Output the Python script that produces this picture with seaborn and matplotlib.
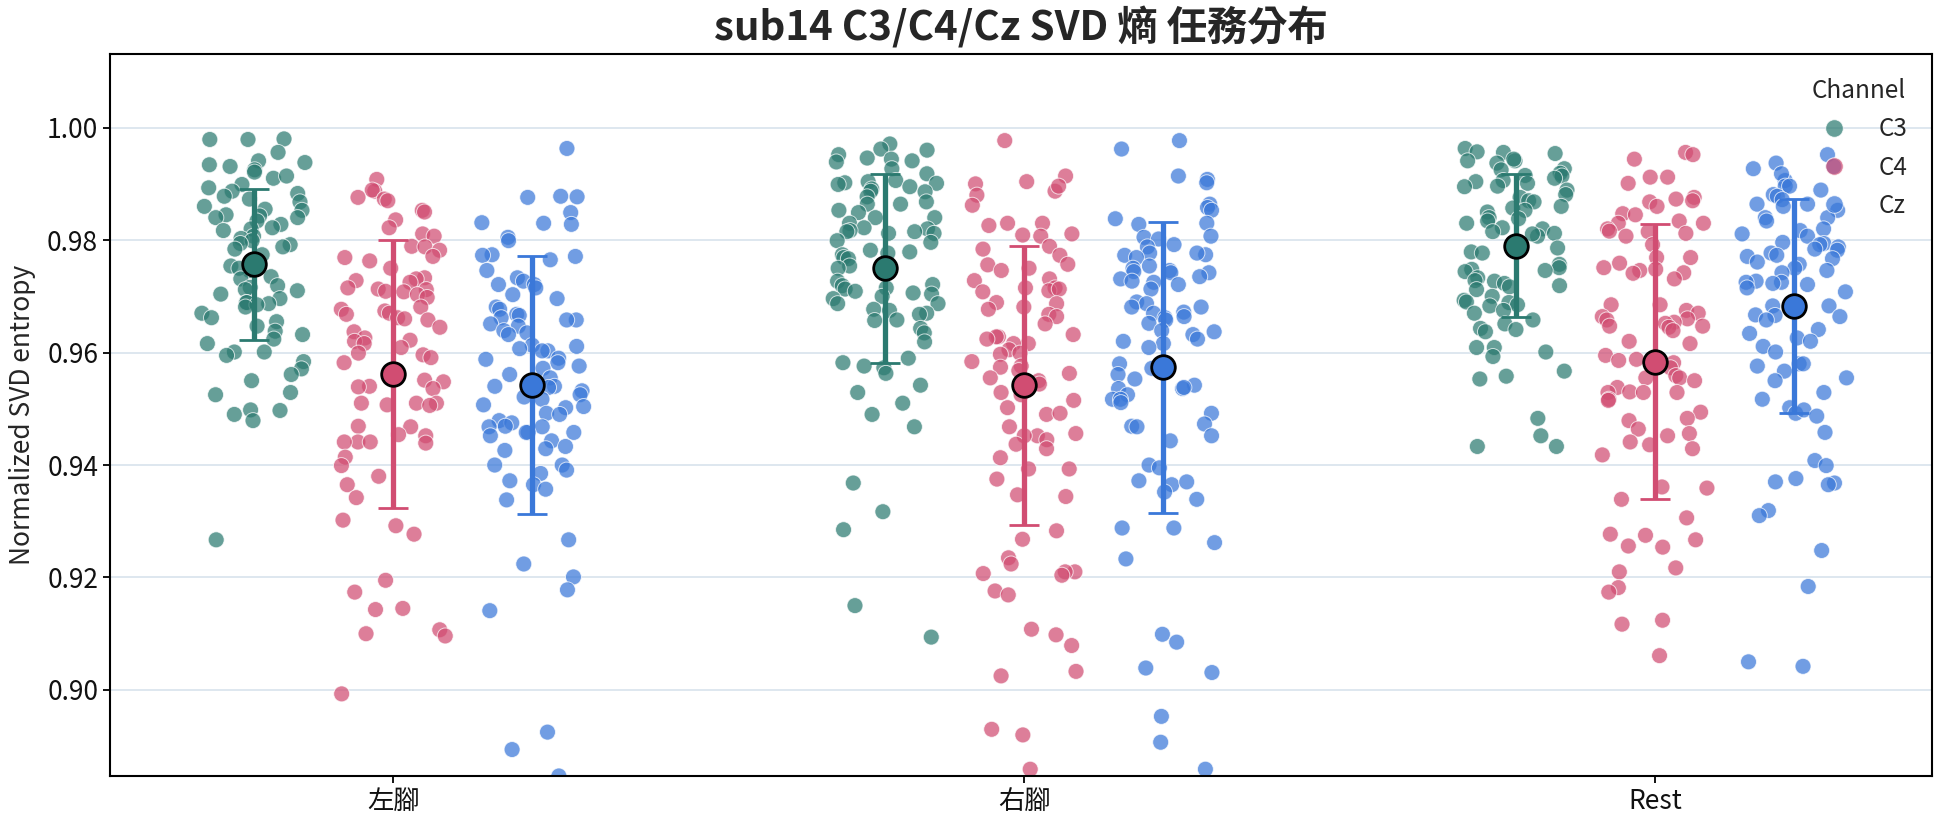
import numpy as np
import pandas as pd
import matplotlib
matplotlib.use("Agg")
import matplotlib.pyplot as plt
import seaborn as sns

conditions = ["左腳", "右腳", "Rest"]
channels = ["C3", "C4", "Cz"]
palette = {"C3": "#2b7a70", "C4": "#d14d72", "Cz": "#3a78d9"}

c3_left = [0.9979, 0.9980, 0.9979, 0.9956, 0.9938, 0.9941, 0.9925, 0.9934, 0.9931, 0.9921, 0.9910, 0.9914,
           0.9899, 0.9893, 0.9887, 0.9883, 0.9878, 0.9873, 0.9868, 0.9860, 0.9855, 0.9853, 0.9845, 0.9843,
           0.9840, 0.9840, 0.9834, 0.9828, 0.9822, 0.9820, 0.9817, 0.9807, 0.9803, 0.9799, 0.9794, 0.9792,
           0.9788, 0.9784, 0.9774, 0.9754, 0.9746, 0.9750, 0.9735, 0.9731, 0.9716, 0.9719, 0.9712, 0.9710,
           0.9704, 0.9696, 0.9689, 0.9689, 0.9687, 0.9685, 0.9681, 0.9670, 0.9662, 0.9655, 0.9647, 0.9638,
           0.9632, 0.9624, 0.9616, 0.9601, 0.9601, 0.9595, 0.9584, 0.9571, 0.9561, 0.9550, 0.9529, 0.9525,
           0.9490, 0.9498, 0.9497, 0.9479, 0.9267]
c4_left = [0.9908, 0.9887, 0.9889, 0.9876, 0.9873, 0.9870, 0.9853, 0.9850, 0.9836, 0.9822, 0.9811, 0.9807,
           0.9789, 0.9788, 0.9782, 0.9769, 0.9771, 0.9763, 0.9750, 0.9733, 0.9731, 0.9728, 0.9725, 0.9715,
           0.9713, 0.9712, 0.9709, 0.9708, 0.9703, 0.9698, 0.9681, 0.9677, 0.9674, 0.9670, 0.9668, 0.9662,
           0.9660, 0.9658, 0.9645, 0.9637, 0.9626, 0.9622, 0.9620, 0.9616, 0.9609, 0.9599, 0.9596, 0.9591,
           0.9582, 0.9568, 0.9551, 0.9548, 0.9540, 0.9539, 0.9536, 0.9510, 0.9510, 0.9507, 0.9510, 0.9506,
           0.9469, 0.9468, 0.9452, 0.9454, 0.9441, 0.9441, 0.9441, 0.9439, 0.9414, 0.9399, 0.9380, 0.9365,
           0.9342, 0.9302, 0.9292, 0.9277, 0.9195, 0.9174, 0.9143, 0.9145, 0.9107, 0.9096, 0.9100, 0.8993]
cz_left = [0.9963, 0.9877, 0.9876, 0.9878, 0.9849, 0.9830, 0.9828, 0.9831, 0.9805, 0.9799, 0.9774, 0.9771,
           0.9773, 0.9765, 0.9746, 0.9733, 0.9727, 0.9721, 0.9721, 0.9715, 0.9703, 0.9696, 0.9681, 0.9677,
           0.9668, 0.9666, 0.9662, 0.9658, 0.9658, 0.9651, 0.9647, 0.9639, 0.9635, 0.9632, 0.9613, 0.9611,
           0.9607, 0.9603, 0.9603, 0.9590, 0.9588, 0.9582, 0.9576, 0.9572, 0.9561, 0.9555, 0.9540, 0.9538,
           0.9540, 0.9532, 0.9525, 0.9521, 0.9517, 0.9507, 0.9504, 0.9502, 0.9492, 0.9490, 0.9479, 0.9475,
           0.9469, 0.9468, 0.9468, 0.9458, 0.9458, 0.9458, 0.9452, 0.9443, 0.9433, 0.9429, 0.9426, 0.9400,
           0.9400, 0.9391, 0.9385, 0.9372, 0.9365, 0.9357, 0.9338, 0.9267, 0.9224, 0.9201, 0.9178, 0.9141,
           0.8925, 0.8894, 0.8847]
c3_right = [0.9971, 0.9962, 0.9960, 0.9952, 0.9944, 0.9946, 0.9939, 0.9941, 0.9927, 0.9918, 0.9906, 0.9904,
            0.9901, 0.9902, 0.9899, 0.9895, 0.9891, 0.9887, 0.9886, 0.9877, 0.9868, 0.9864, 0.9864, 0.9853,
            0.9849, 0.9840, 0.9840, 0.9830, 0.9822, 0.9820, 0.9817, 0.9815, 0.9815, 0.9812, 0.9812, 0.9799,
            0.9796, 0.9782, 0.9779, 0.9777, 0.9774, 0.9769, 0.9767, 0.9754, 0.9750, 0.9727, 0.9721, 0.9719,
            0.9715, 0.9713, 0.9709, 0.9706, 0.9704, 0.9700, 0.9696, 0.9687, 0.9687, 0.9677, 0.9675, 0.9670,
            0.9668, 0.9658, 0.9657, 0.9643, 0.9635, 0.9619, 0.9590, 0.9582, 0.9576, 0.9573, 0.9563, 0.9542,
            0.9529, 0.9510, 0.9490, 0.9468, 0.9368, 0.9317, 0.9285, 0.9150, 0.9094]
c4_right = [0.9977, 0.9914, 0.9904, 0.9900, 0.9887, 0.9880, 0.9896, 0.9862, 0.9830, 0.9826, 0.9830, 0.9811,
            0.9809, 0.9807, 0.9789, 0.9784, 0.9773, 0.9757, 0.9756, 0.9750, 0.9746, 0.9731, 0.9728, 0.9715,
            0.9715, 0.9710, 0.9708, 0.9713, 0.9689, 0.9687, 0.9681, 0.9677, 0.9668, 0.9664, 0.9651, 0.9632,
            0.9628, 0.9628, 0.9624, 0.9616, 0.9616, 0.9605, 0.9599, 0.9597, 0.9584, 0.9576, 0.9574, 0.9568,
            0.9563, 0.9555, 0.9550, 0.9544, 0.9529, 0.9525, 0.9515, 0.9502, 0.9490, 0.9492, 0.9468, 0.9456,
            0.9452, 0.9452, 0.9445, 0.9437, 0.9429, 0.9413, 0.9393, 0.9393, 0.9375, 0.9347, 0.9344, 0.9283,
            0.9268, 0.9235, 0.9224, 0.9210, 0.9207, 0.9210, 0.9204, 0.9176, 0.9169, 0.9108, 0.9098, 0.9079,
            0.9033, 0.9025, 0.8930, 0.8920, 0.8859]
cz_right = [0.9977, 0.9962, 0.9914, 0.9908, 0.9902, 0.9864, 0.9858, 0.9853, 0.9838, 0.9830, 0.9828, 0.9805,
            0.9802, 0.9807, 0.9792, 0.9788, 0.9777, 0.9774, 0.9777, 0.9773, 0.9769, 0.9754, 0.9750, 0.9746,
            0.9744, 0.9742, 0.9742, 0.9735, 0.9731, 0.9727, 0.9725, 0.9721, 0.9713, 0.9690, 0.9687, 0.9681,
            0.9681, 0.9672, 0.9670, 0.9664, 0.9662, 0.9658, 0.9652, 0.9639, 0.9637, 0.9632, 0.9624, 0.9620,
            0.9616, 0.9609, 0.9580, 0.9572, 0.9561, 0.9553, 0.9542, 0.9536, 0.9538, 0.9536, 0.9525, 0.9517,
            0.9517, 0.9511, 0.9492, 0.9473, 0.9469, 0.9468, 0.9452, 0.9443, 0.9400, 0.9395, 0.9372, 0.9365,
            0.9370, 0.9352, 0.9339, 0.9288, 0.9288, 0.9262, 0.9233, 0.9099, 0.9085, 0.9039, 0.9031, 0.8953,
            0.8907, 0.8859]
c3_rest = [0.9963, 0.9954, 0.9957, 0.9956, 0.9941, 0.9944, 0.9941, 0.9937, 0.9925, 0.9927, 0.9919, 0.9915,
           0.9914, 0.9910, 0.9906, 0.9904, 0.9901, 0.9896, 0.9895, 0.9889, 0.9881, 0.9876, 0.9870, 0.9868,
           0.9860, 0.9857, 0.9853, 0.9850, 0.9840, 0.9838, 0.9834, 0.9830, 0.9822, 0.9820, 0.9815, 0.9812,
           0.9807, 0.9811, 0.9786, 0.9779, 0.9777, 0.9757, 0.9751, 0.9748, 0.9746, 0.9744, 0.9733, 0.9728,
           0.9727, 0.9723, 0.9719, 0.9717, 0.9712, 0.9700, 0.9693, 0.9690, 0.9689, 0.9685, 0.9683, 0.9675,
           0.9670, 0.9658, 0.9651, 0.9643, 0.9641, 0.9637, 0.9609, 0.9609, 0.9601, 0.9593, 0.9567, 0.9558,
           0.9553, 0.9483, 0.9452, 0.9433, 0.9433]
c4_rest = [0.9956, 0.9952, 0.9944, 0.9912, 0.9912, 0.9901, 0.9876, 0.9873, 0.9870, 0.9868, 0.9860, 0.9847,
           0.9845, 0.9834, 0.9830, 0.9830, 0.9820, 0.9816, 0.9815, 0.9812, 0.9807, 0.9792, 0.9769, 0.9769,
           0.9759, 0.9751, 0.9748, 0.9746, 0.9741, 0.9742, 0.9731, 0.9685, 0.9685, 0.9675, 0.9670, 0.9664,
           0.9660, 0.9658, 0.9654, 0.9652, 0.9647, 0.9645, 0.9647, 0.9639, 0.9620, 0.9616, 0.9595, 0.9588,
           0.9582, 0.9586, 0.9573, 0.9559, 0.9555, 0.9550, 0.9555, 0.9538, 0.9530, 0.9529, 0.9529, 0.9529,
           0.9517, 0.9515, 0.9494, 0.9483, 0.9479, 0.9464, 0.9456, 0.9452, 0.9441, 0.9436, 0.9429, 0.9418,
           0.9359, 0.9361, 0.9339, 0.9306, 0.9277, 0.9275, 0.9254, 0.9256, 0.9267, 0.9217, 0.9210, 0.9182,
           0.9174, 0.9124, 0.9117, 0.9061]
cz_rest = [0.9952, 0.9931, 0.9927, 0.9937, 0.9906, 0.9918, 0.9896, 0.9896, 0.9889, 0.9881, 0.9878, 0.9872,
           0.9864, 0.9864, 0.9860, 0.9853, 0.9840, 0.9840, 0.9834, 0.9820, 0.9817, 0.9811, 0.9807, 0.9796,
           0.9794, 0.9792, 0.9788, 0.9784, 0.9782, 0.9777, 0.9773, 0.9771, 0.9767, 0.9761, 0.9757, 0.9750,
           0.9746, 0.9742, 0.9727, 0.9725, 0.9725, 0.9723, 0.9721, 0.9715, 0.9708, 0.9687, 0.9683, 0.9683,
           0.9667, 0.9666, 0.9664, 0.9658, 0.9641, 0.9634, 0.9626, 0.9620, 0.9611, 0.9601, 0.9580, 0.9580,
           0.9576, 0.9567, 0.9555, 0.9550, 0.9529, 0.9517, 0.9502, 0.9492, 0.9498, 0.9487, 0.9458, 0.9408,
           0.9399, 0.9368, 0.9370, 0.9365, 0.9376, 0.9319, 0.9310, 0.9248, 0.9184, 0.9050, 0.9042]

# group mean and SD as shown by the summary markers
mean_c3 = [0.9757, 0.9750, 0.9790]
mean_c4 = [0.9562, 0.9542, 0.9584]
mean_cz = [0.9542, 0.9574, 0.9683]
sd_c3 = [0.0134, 0.0168, 0.0127]
sd_c4 = [0.0239, 0.0248, 0.0245]
sd_cz = [0.0229, 0.0259, 0.0191]

values = {
    ("左腳", "C3"): c3_left, ("左腳", "C4"): c4_left, ("左腳", "Cz"): cz_left,
    ("右腳", "C3"): c3_right, ("右腳", "C4"): c4_right, ("右腳", "Cz"): cz_right,
    ("Rest", "C3"): c3_rest, ("Rest", "C4"): c4_rest, ("Rest", "Cz"): cz_rest,
}
means = {"C3": mean_c3, "C4": mean_c4, "Cz": mean_cz}
sds = {"C3": sd_c3, "C4": sd_c4, "Cz": sd_cz}
hue_offset = {"C3": -0.22, "C4": 0.0, "Cz": 0.22}

rows = []
for ci, cond in enumerate(conditions):
    for ch in channels:
        for v in values[(cond, ch)]:
            rows.append({"Condition": cond, "Channel": ch, "pos": ci + hue_offset[ch], "value": v})
df = pd.DataFrame(rows)

summ = []
for ci, cond in enumerate(conditions):
    for ch in channels:
        summ.append({"Channel": ch, "pos": ci + hue_offset[ch], "mean": means[ch][ci], "sd": sds[ch][ci]})
summ = pd.DataFrame(summ)

sns.set_theme(style="ticks")
plt.rcParams["font.family"] = ["Noto Sans CJK TC", "DejaVu Sans"]
plt.rcParams["axes.edgecolor"] = "black"
plt.rcParams["axes.linewidth"] = 1.5

fig = plt.figure(figsize=(19.44, 8.27), dpi=100)
ax = fig.add_axes([0.0566, 0.0617, 0.9372, 0.873])
ax.yaxis.grid(True, color="#dbe5ee", linewidth=1.3)
ax.set_axisbelow(True)

np.random.seed(7)
sns.stripplot(data=df, x="pos", y="value", hue="Channel", hue_order=channels, palette=palette,
              native_scale=True, orient="x", jitter=0.38, size=11.5, alpha=0.72,
              edgecolor="white", linewidth=0.7, ax=ax, zorder=2)

for ch in channels:
    sub = summ[summ["Channel"] == ch]
    ax.errorbar(sub["pos"], sub["mean"], yerr=sub["sd"], fmt="o", color=palette[ch],
                ecolor=palette[ch], elinewidth=3.8, capsize=11, capthick=2.4,
                markersize=17, markeredgecolor="black", markeredgewidth=2, zorder=5)

ax.set_xlim(-0.449, 2.439)
ax.set_ylim(0.8847, 1.0131)
ax.set_yticks([0.90, 0.92, 0.94, 0.96, 0.98, 1.00])
ax.set_yticklabels([f"{t:.2f}" for t in [0.90, 0.92, 0.94, 0.96, 0.98, 1.00]])
ax.set_xticks([0, 1, 2])
ax.set_xticklabels(conditions)
ax.set_xlabel("")
ax.set_ylabel("Normalized SVD entropy", fontsize=19, labelpad=8)
ax.tick_params(axis="both", labelsize=19, length=5, width=1.3, color="black", labelcolor="#111111")
for s in ax.spines.values():
    s.set_visible(True)
    s.set_color("black")
    s.set_linewidth(1.5)

ax.set_title("sub14 C3/C4/Cz SVD 熵 任務分布", fontsize=29, fontweight="bold", pad=10)

handles, labels = ax.get_legend_handles_labels()
keep = [(h, l) for h, l in zip(handles, labels) if l in channels][:3]
ax.legend([h for h, _ in keep], [l for _, l in keep], title="Channel", frameon=False,
          loc="upper right", fontsize=17.5, title_fontsize=17.5, handletextpad=0.85,
          labelspacing=0.5, borderaxespad=0.6, markerscale=1.1)

fig.savefig("out.png", dpi=100)
